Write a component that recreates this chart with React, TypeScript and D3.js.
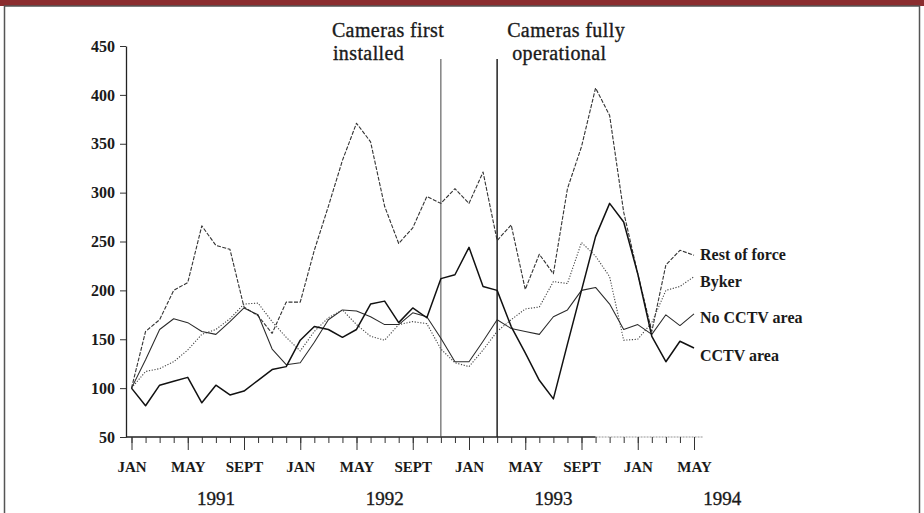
import React, { useEffect, useRef } from 'react'
import * as d3 from 'd3'

// monthly values, Jan 1991 .. May 1994 (Jan 1991 = 100)
const restOfForce = [100, 158, 170, 200, 208, 266, 246, 242, 183, 174, 156, 188, 188, 241, 286, 333, 371, 352, 286, 248, 264, 296, 289, 304, 289, 321, 251, 267, 201, 237, 217, 304, 347, 407, 379, 280, 217, 158, 226, 241, 236]
const byker = [100, 117, 120, 127, 139, 155, 160, 171, 186, 187, 168, 152, 138, 158, 172, 180, 165, 153, 149, 165, 168, 166, 140, 126, 122, 139, 158, 170, 181, 183, 209, 207, 249, 235, 214, 149, 150, 167, 200, 204, 214]
const noCctv = [100, 129, 160, 171, 167, 158, 155, 168, 182, 175, 140, 124, 126, 147, 170, 180, 179, 173, 165, 165, 177, 173, 151, 127, 127, 148, 170, 161, 158, 155, 173, 180, 200, 203, 186, 160, 165, 155, 175, 164, 176]
const cctv = [100, 82, 103, 107, 111, 85, 103, 93, 97, 108, 119, 122, 149, 163, 160, 152, 160, 186, 189, 167, 182, 172, 212, 216, 244, 204, 200, 163, 136, 108, 89, 145, 200, 255, 289, 270, 217, 153, 127, 148, 141]

const seriesNames = ['Rest of force', 'Byker', 'No CCTV area', 'CCTV area']
const monthLabels = ['JAN', 'MAY', 'SEPT', 'JAN', 'MAY', 'SEPT', 'JAN', 'MAY', 'SEPT', 'JAN', 'MAY']
const yearLabels = ['1991', '1992', '1993', '1994']
const yTicks = [50, 100, 150, 200, 250, 300, 350, 400, 450]
const cameraMonths = [22, 26] // Nov 1992, Mar 1993
const cameraLabels = [['Cameras first', 'installed'], ['Cameras fully', 'operational']]

const W = 924
const H = 513
const FONT = '"Liberation Serif", "Times New Roman", serif'

export default function App() {
  const svgRef = useRef<SVGSVGElement>(null)

  useEffect(() => {
    const svg = d3.select(svgRef.current)
    svg.selectAll('*').remove()

    const x = d3.scaleLinear().domain([0, 40]).range([131.5, 694])
    const y = d3.scaleLinear().domain([50, 450]).range([437, 46])
    const axisX = 126

    // frame
    svg.append('rect').attr('width', W).attr('height', H).attr('fill', '#fff')
    svg.append('rect').attr('width', W).attr('height', 6).attr('fill', '#8b2d2f')
    svg.append('rect')
      .attr('x', 4.5).attr('y', 6).attr('width', 915).attr('height', 520)
      .attr('fill', 'none').attr('stroke', '#555').attr('stroke-width', 1.5)

    // y axis
    const gy = svg.append('g')
      .attr('transform', `translate(${axisX},0)`)
      .call(d3.axisLeft(y).tickValues(yTicks).tickSize(6).tickSizeOuter(0).tickPadding(5))
    gy.select('.domain').attr('stroke', '#222').attr('stroke-width', 1.3)
    gy.selectAll('line').attr('stroke', '#333')
    gy.selectAll('text')
      .attr('font-family', FONT).attr('font-size', 16).attr('font-weight', 'bold').attr('fill', '#1a1a1a')

    // x axis line (fades after autumn 1993 as in the original)
    svg.append('line')
      .attr('x1', axisX).attr('x2', x(33)).attr('y1', y(50)).attr('y2', y(50))
      .attr('stroke', '#222').attr('stroke-width', 1.3)
    svg.append('line')
      .attr('x1', x(33)).attr('x2', x(40.65)).attr('y1', y(50)).attr('y2', y(50))
      .attr('stroke', '#888').attr('stroke-width', 0.9).attr('stroke-dasharray', '2,1')

    // minor (monthly) ticks
    const gMinor = svg.append('g')
      .attr('transform', `translate(0,${y(50)})`)
      .call(d3.axisBottom(x).tickValues(d3.range(41)).tickSize(6).tickFormat(() => ''))
    gMinor.select('.domain').remove()
    gMinor.selectAll('line').attr('stroke', '#333')

    // major ticks with month labels
    const gMajor = svg.append('g')
      .attr('transform', `translate(0,${y(50)})`)
      .call(d3.axisBottom(x).tickValues(d3.range(0, 41, 4)).tickSize(13)
        .tickFormat((d, i) => monthLabels[i]))
    gMajor.select('.domain').remove()
    gMajor.selectAll('line').attr('stroke', '#333')
    gMajor.selectAll('text')
      .attr('y', 35).attr('dy', 0)
      .attr('font-family', FONT).attr('font-size', 15).attr('font-weight', 'bold').attr('fill', '#1a1a1a')

    // years, centred on July
    svg.append('g').selectAll('text')
      .data(yearLabels)
      .join('text')
      .attr('x', (d, i) => x(6 + i * 12))
      .attr('y', 505)
      .attr('text-anchor', 'middle')
      .attr('font-family', FONT).attr('font-size', 19).attr('fill', '#1a1a1a')
      .attr('stroke', '#1a1a1a').attr('stroke-width', 0.35)
      .text(d => d)

    // camera lines and notes
    cameraMonths.forEach((m, i) => {
      svg.append('line')
        .attr('x1', x(m)).attr('x2', x(m)).attr('y1', 59).attr('y2', y(50))
        .attr('stroke', i === 0 ? '#444' : '#222').attr('stroke-width', i === 0 ? 1 : 1.5)
      const tx = i === 0 ? x(m) - 109 : x(m) + 10
      cameraLabels[i].forEach((t, j) => {
        svg.append('text')
          .attr('x', tx + (j === 1 ? (i === 0 ? 1 : 5) : 0))
          .attr('y', 37 + j * 23)
          .attr('font-family', FONT).attr('font-size', 20).attr('letter-spacing', 0.4)
          .attr('fill', '#1a1a1a')
          .attr('stroke', '#1a1a1a').attr('stroke-width', 0.35)
          .text(t)
      })
    })

    // series
    const series = [
      { name: seriesNames[0], values: restOfForce, color: '#333', width: 1.1, dash: '4,1.5', labelDy: 5 },
      { name: seriesNames[1], values: byker, color: '#444', width: 1.1, dash: '1.2,1.6', labelDy: 10 },
      { name: seriesNames[2], values: noCctv, color: '#2a2a2a', width: 1.05, dash: null, labelDy: 9 },
      { name: seriesNames[3], values: cctv, color: '#111', width: 1.5, dash: null, labelDy: 13 },
    ]
    const line = d3.line<number>().x((d, i) => x(i)).y(d => y(d))

    series.forEach(s => {
      svg.append('path')
        .datum(s.values)
        .attr('d', line)
        .attr('fill', 'none')
        .attr('stroke', s.color)
        .attr('stroke-width', s.width)
        .attr('stroke-dasharray', s.dash)
        .attr('stroke-linejoin', 'round')
      svg.append('text')
        .attr('x', x(40) + 6)
        .attr('y', y(s.values[s.values.length - 1]) + s.labelDy)
        .attr('font-family', FONT).attr('font-size', 16).attr('font-weight', 'bold').attr('fill', '#1a1a1a')
        .text(s.name)
    })
  }, [])

  return (
    <svg ref={svgRef} width={W} height={H} style={{ position: 'absolute', left: 0, top: 0 }}></svg>
  )
}
